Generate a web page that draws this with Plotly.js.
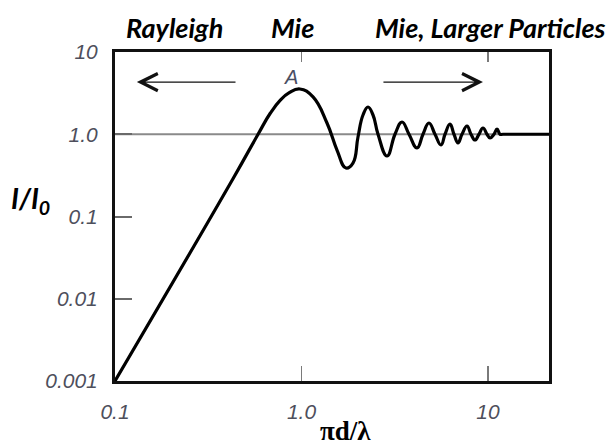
<!DOCTYPE html>
<html>
<head>
<meta charset="utf-8">
<script src="https://cdn.plot.ly/plotly-3.0.1.min.js"></script>
<style>html,body{margin:0;padding:0;background:#fff;}#chart{width:612px;height:446px;}</style>
</head>
<body>
<div id="chart"></div>
<script>
// ---- data ----
const curveX = [0.1, 0.43, 0.585, 0.68, 0.77, 0.86, 0.98, 1.153, 1.37, 1.55, 1.732, 1.888, 2.009, 2.137, 2.273, 2.418, 2.572, 2.874, 3.172, 3.459, 3.771, 4.162, 4.482, 4.826, 5.198, 5.598, 5.882, 6.255, 6.572, 6.905, 7.253, 7.717, 8.107, 8.518, 8.948, 9.401, 9.876, 10.25, 10.77, 11.18, 11.6, 12.03, 21.24];
const curveY = [0.001, 0.29, 1.0, 1.8, 2.6, 3.2, 3.55, 2.84, 1.37, 0.643, 0.389, 0.447, 0.926, 1.714, 2.145, 1.714, 1.0, 0.544, 1.0, 1.409, 1.0, 0.681, 1.0, 1.37, 1.0, 0.74, 1.0, 1.332, 1.0, 0.783, 1.0, 1.26, 1.0, 0.851, 1.0, 1.191, 1.0, 0.90, 1.0, 1.158, 1.0, 1.0, 1.0];
const refLineX = [0.1, 21.24];
const refLineY = [1, 1];
const xTickVals = [0.1, 1, 10];
const xTickText = ['0.1', '1.0', '10'];
const yTickVals = [0.001, 0.01, 0.1, 1, 10];
const yTickText = ['0.001', '0.01', '0.1', '1.0', '10'];
const topTickVals = [1, 10];
const regionLabels = ['Rayleigh', 'Mie', 'Mie, Larger Particles'];
const arrowY = 4.31;
const leftArrowX = [0.451, 0.131];   // tail, tip
const rightArrowX = [2.70, 9.40];    // tail, tip
const peakLabel = 'A';
const peakLabelX = 0.878;
const peakLabelY = 4.97;
const yTitle = 'I/I<sub>0</sub>';
const xTitle = 'πd/λ';
const xRange = [0.1, 21.24];
const yRange = [0.001, 10];

const L = Math.log10;
const tickFont = {family: 'Liberation Sans, Arial, sans-serif', size: 21, color: '#4e4f5c', style: 'italic'};
const labelFont = {family: 'Lato, sans-serif', size: 27, color: '#000', weight: 700, style: 'italic'};

const traces = [
  {x: refLineX, y: refLineY, xaxis: 'x', yaxis: 'y', mode: 'lines',
   line: {color: '#8a8a8a', width: 2}, hoverinfo: 'skip', showlegend: false},
  {x: curveX, y: curveY, xaxis: 'x2', yaxis: 'y', mode: 'lines',
   line: {color: '#000', width: 3.2, shape: 'spline', smoothing: 1.3}, hoverinfo: 'skip', showlegend: false}
];

const regionX = [0.138, 0.408, 0.866];
const annotations = regionLabels.map((t, i) => ({
  text: t, xref: 'paper', yref: 'paper', x: regionX[i], y: 1.075,
  xanchor: 'center', yanchor: 'middle', showarrow: false, font: labelFont
}));
annotations.push(
  {text: yTitle, xref: 'paper', yref: 'paper', x: -0.194, y: 0.55, xanchor: 'center', yanchor: 'middle',
   showarrow: false, font: {family: 'Lato, sans-serif', size: 28, color: '#000', weight: 700, style: 'italic'}},
  {text: xTitle, xref: 'paper', yref: 'paper', x: 0.53, y: -0.152, xanchor: 'center', yanchor: 'middle',
   showarrow: false, font: {family: 'Liberation Serif, Times New Roman, serif', size: 27, color: '#000', weight: 700}},
  {text: peakLabel, xref: 'x', yref: 'y', x: L(peakLabelX), y: L(peakLabelY), xanchor: 'center', yanchor: 'middle',
   showarrow: false, font: {family: 'Liberation Sans, Arial, sans-serif', size: 20, color: '#4a4e63', style: 'italic'}},
  {text: '', xref: 'x', yref: 'y', axref: 'x', ayref: 'y',
   x: L(leftArrowX[1]), y: L(arrowY), ax: L(leftArrowX[0]), ay: L(arrowY),
   showarrow: true, arrowhead: 5, arrowsize: 2.6, arrowwidth: 1.3, arrowcolor: '#111', standoff: 0, startstandoff: 0},
  {text: '', xref: 'x', yref: 'y', axref: 'x', ayref: 'y',
   x: L(rightArrowX[1]), y: L(arrowY), ax: L(rightArrowX[0]), ay: L(arrowY),
   showarrow: true, arrowhead: 5, arrowsize: 2.6, arrowwidth: 1.3, arrowcolor: '#111', standoff: 0, startstandoff: 0}
);

const layout = {
  width: 612, height: 446,
  margin: {l: 115, r: 63, t: 52, b: 65, pad: 0},
  paper_bgcolor: '#fff', plot_bgcolor: '#fff',
  showlegend: false,
  xaxis: {
    type: 'log', range: [L(xRange[0]), L(xRange[1])], fixedrange: true,
    tickvals: xTickVals, ticktext: xTickText, tickfont: tickFont,
    ticks: 'inside', ticklen: 15, tickwidth: 1.6, tickcolor: '#7a7a7a',
    ticklabelstandoff: 10,
    showline: true, mirror: true, linewidth: 3, linecolor: '#111',
    showgrid: false, zeroline: false
  },
  xaxis2: {
    type: 'log', range: [L(xRange[0]), L(xRange[1])], overlaying: 'x', side: 'top', fixedrange: true,
    tickvals: topTickVals, showticklabels: false,
    ticks: 'inside', ticklen: 10, tickwidth: 1.6, tickcolor: '#7a7a7a',
    showline: false, showgrid: false, zeroline: false
  },
  yaxis: {
    type: 'log', range: [L(yRange[0]), L(yRange[1])], fixedrange: true,
    tickvals: yTickVals, ticktext: yTickText, tickfont: tickFont,
    ticks: 'inside', ticklen: 17, tickwidth: 2, tickcolor: '#6a6a6a',
    ticklabelstandoff: 10,
    showline: true, mirror: true, linewidth: 3, linecolor: '#111',
    showgrid: false, zeroline: false
  },
  annotations: annotations
};

Plotly.newPlot('chart', traces, layout, {staticPlot: true, displayModeBar: false});
</script>
</body>
</html>
